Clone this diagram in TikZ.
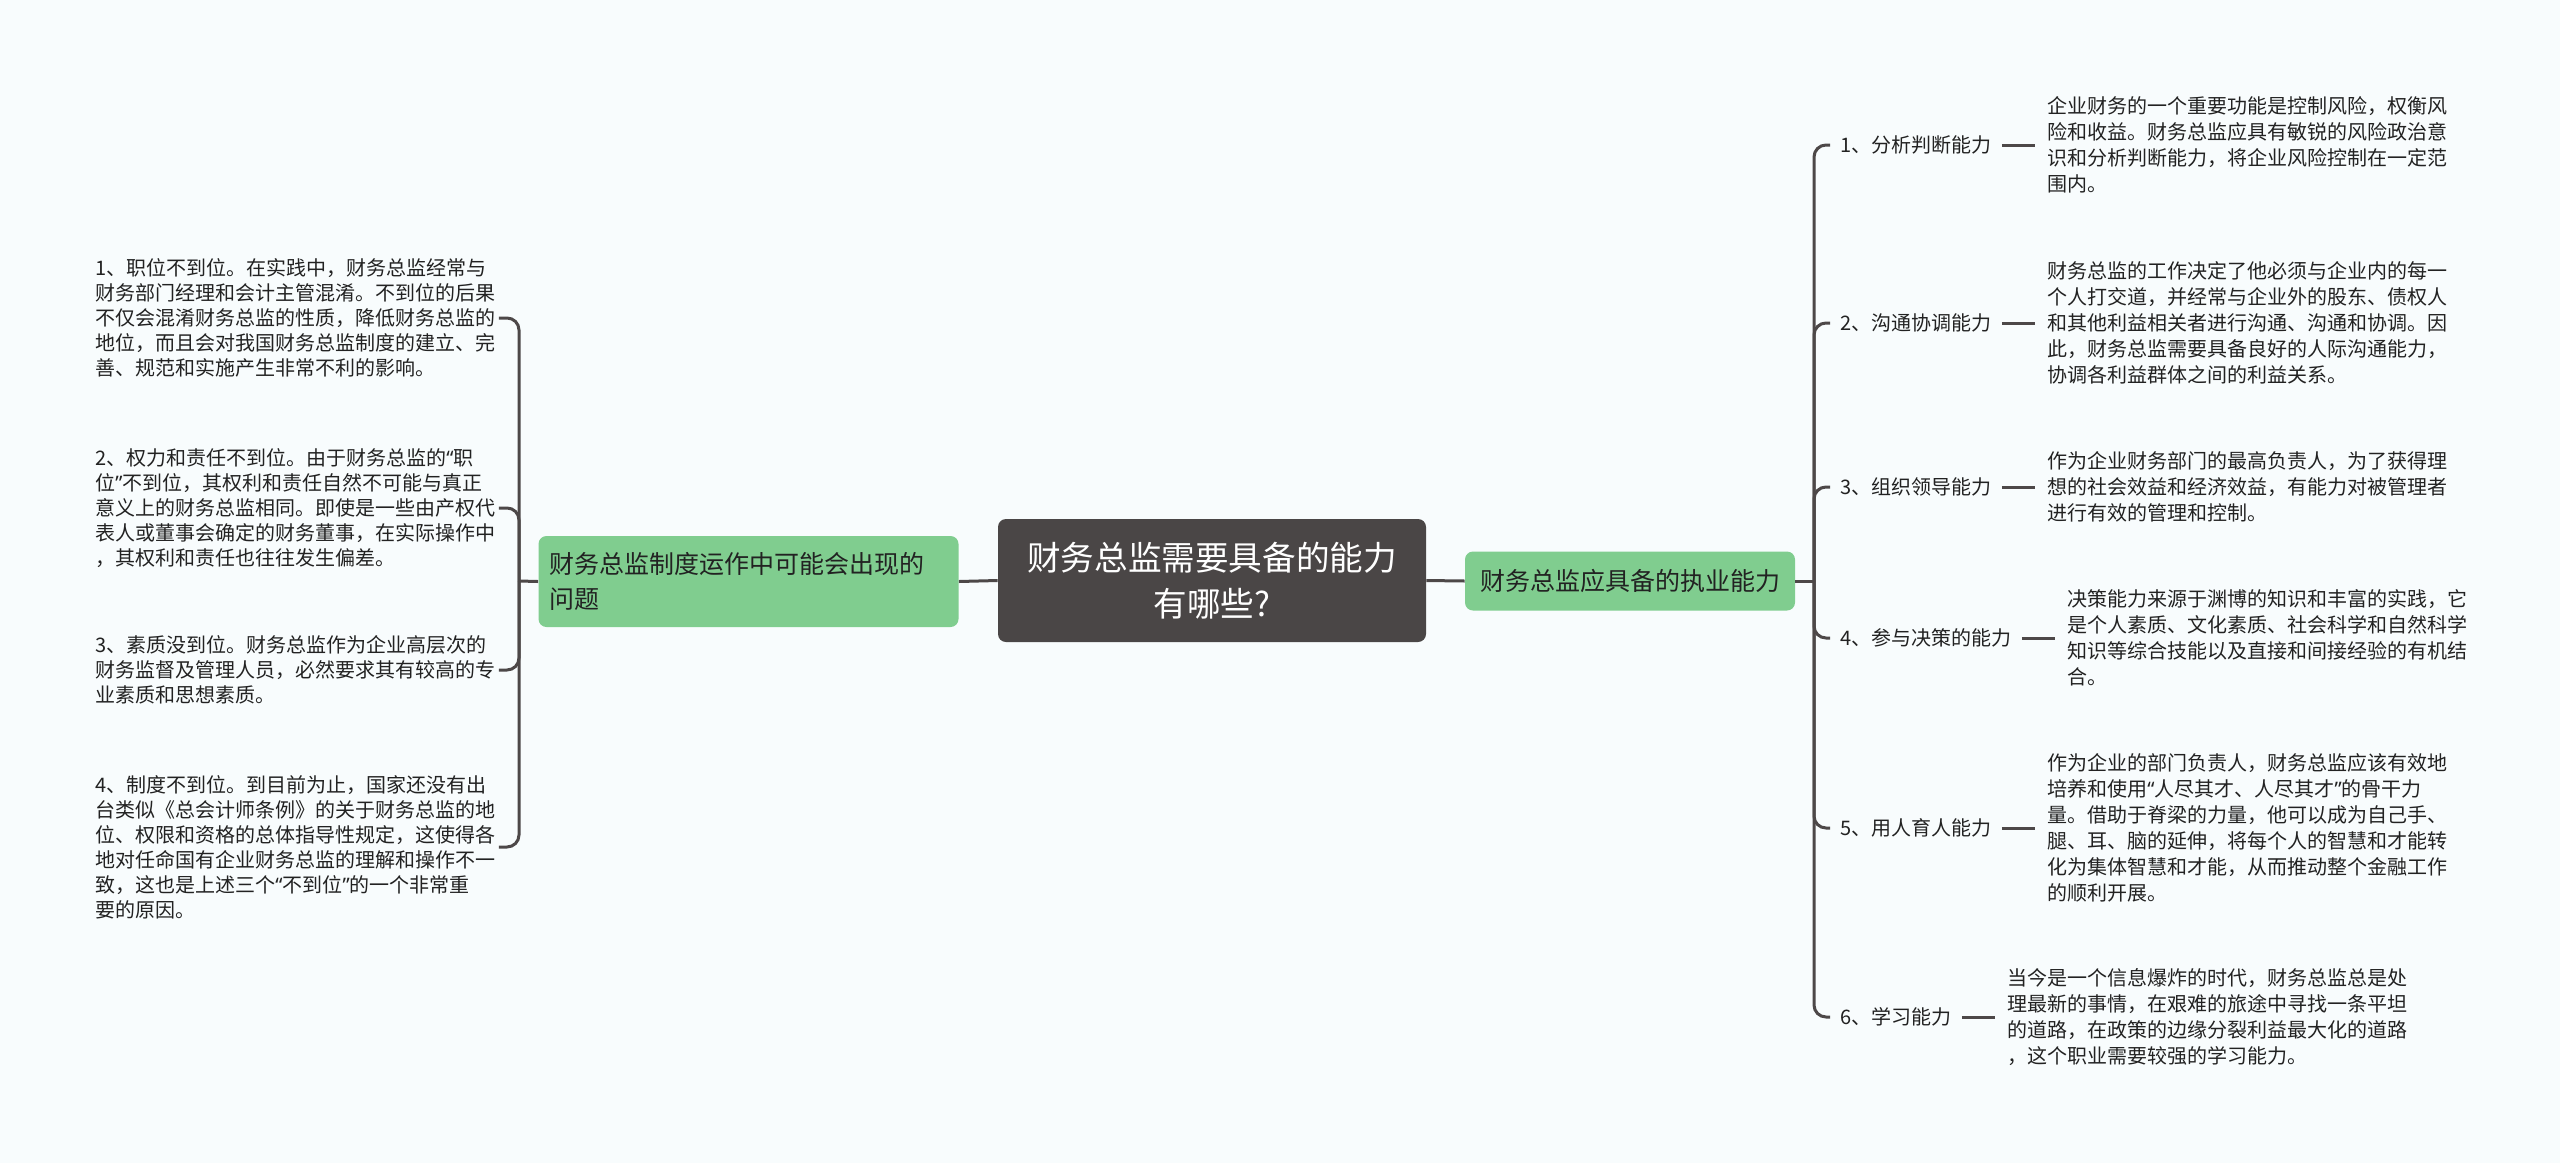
\documentclass[tikz,border=0pt]{standalone}
\usepackage{fontspec}
\setmainfont{Noto Sans CJK SC}
\newfontfamily\quotefont{Noto Sans}
\newcommand{\openq}{{\quotefont “}}
\newcommand{\closeq}{{\quotefont ”}}
\usepackage{xcolor}
\usepackage{tikz}
\usetikzlibrary{positioning}

\definecolor{bgcol}{RGB}{248,252,253}
\definecolor{rootcol}{RGB}{74,70,70}
\definecolor{leafgreen}{RGB}{128,205,143}
\definecolor{linkcol}{RGB}{77,72,72}
\definecolor{txtcol}{RGB}{34,34,34}

\begin{document}
\begin{tikzpicture}[x=0.5pt,y=-0.5pt,
    link/.style={draw=linkcol, line width=1.5pt},
    rootbox/.style={fill=rootcol, text=white, rounded corners=4pt, align=center,
        font=\fontsize{16.8pt}{23pt}\selectfont, minimum width=214pt, minimum height=61.5pt},
    greenbox/.style={fill=leafgreen, text=txtcol, rounded corners=4pt,
        font=\fontsize{12.5pt}{17.5pt}\selectfont},
    itembox/.style={anchor=west, text=txtcol, align=left, text width=200pt,
        inner xsep=1.5pt, font=\fontsize{10pt}{12.5pt}\selectfont},
    labelbox/.style={anchor=west, text=txtcol, inner xsep=5pt, inner ysep=2pt,
        font=\fontsize{10pt}{13pt}\selectfont},
    descbox/.style={text=txtcol, align=left, inner xsep=6pt,
        font=\fontsize{10pt}{13pt}\selectfont},
]
    \fill[bgcol] (0,0) rectangle (2560,1163);
    \useasboundingbox (0,0) rectangle (2560,1163);

    % centre and the two branches
    \node[rootbox] (root) at (1212,580.5) {财务总监需要具备的能力\\有哪些?};
    \node[greenbox, align=left, text width=199pt, inner xsep=5.5pt, minimum height=45.5pt]
        (lg) at (748.5,581.5) {财务总监制度运作中可能会出现的\\问题};
    \node[greenbox, minimum width=165pt, minimum height=29.5pt]
        (rg) at (1630,581) {财务总监应具备的执业能力};
    \coordinate (lj) at (519,581);
    \coordinate (rj) at (1814,581);

    \draw[link] (root.west) -- (lg.east);
    \draw[link] (root.east) -- (rg.west);
    \draw[link] (lg.west) -- (lj);
    \draw[link] (rg.east) -- (rj);

    % left side
    \node[itembox] (i1) at (92,318) {1、职位不到位。在实践中，财务总监经常与\\财务部门经理和会计主管混淆。不到位的后果\\不仅会混淆财务总监的性质，降低财务总监的\\地位，而且会对我国财务总监制度的建立、完\\善、规范和实施产生非常不利的影响。};
    \node[itembox] (i2) at (92,508) {2、权力和责任不到位。由于财务总监的\openq 职\\位\closeq 不到位，其权利和责任自然不可能与真正\\意义上的财务总监相同。即使是一些由产权代\\表人或董事会确定的财务董事，在实际操作中\\，其权利和责任也往往发生偏差。};
    \node[itembox] (i3) at (92,670) {3、素质没到位。财务总监作为企业高层次的\\财务监督及管理人员，必然要求其有较高的专\\业素质和思想素质。};
    \node[itembox] (i4) at (92,847) {4、制度不到位。到目前为止，国家还没有出\\台类似《总会计师条例》的关于财务总监的地\\位、权限和资格的总体指导性规定，这使得各\\地对任命国有企业财务总监的理解和操作不一\\致，这也是上述三个\openq 不到位\closeq 的一个非常重\\要的原因。};

    \foreach \i in {1,...,4}
        \draw[link, rounded corners=6pt] (lj) |- (i\i.east);

    % right side
    \node[labelbox] (l1) at (1830,145) {1、分析判断能力};
    \node[labelbox] (l2) at (1830,323) {2、沟通协调能力};
    \node[labelbox] (l3) at (1830,487) {3、组织领导能力};
    \node[labelbox] (l4) at (1830,638) {4、参与决策的能力};
    \node[labelbox] (l5) at (1830,828) {5、用人育人能力};
    \node[labelbox] (l6) at (1830,1017) {6、学习能力};

    \node[descbox, right=16.5pt of l1] (d1) {企业财务的一个重要功能是控制风险，权衡风\\险和收益。财务总监应具有敏锐的风险政治意\\识和分析判断能力，将企业风险控制在一定范\\围内。};
    \node[descbox, right=16.5pt of l2] (d2) {财务总监的工作决定了他必须与企业内的每一\\个人打交道，并经常与企业外的股东、债权人\\和其他利益相关者进行沟通、沟通和协调。因\\此，财务总监需要具备良好的人际沟通能力，\\协调各利益群体之间的利益关系。};
    \node[descbox, right=16.5pt of l3] (d3) {作为企业财务部门的最高负责人，为了获得理\\想的社会效益和经济效益，有能力对被管理者\\进行有效的管理和控制。};
    \node[descbox, right=16.5pt of l4] (d4) {决策能力来源于渊博的知识和丰富的实践，它\\是个人素质、文化素质、社会科学和自然科学\\知识等综合技能以及直接和间接经验的有机结\\合。};
    \node[descbox, right=16.5pt of l5] (d5) {作为企业的部门负责人，财务总监应该有效地\\培养和使用\openq 人尽其才、人尽其才\closeq 的骨干力\\量。借助于脊梁的力量，他可以成为自己手、\\腿、耳、脑的延伸，将每个人的智慧和才能转\\化为集体智慧和才能，从而推动整个金融工作\\的顺利开展。};
    \node[descbox, right=16.5pt of l6] (d6) {当今是一个信息爆炸的时代，财务总监总是处\\理最新的事情，在艰难的旅途中寻找一条平坦\\的道路，在政策的边缘分裂利益最大化的道路\\，这个职业需要较强的学习能力。};

    \foreach \i in {1,...,6} {
        \draw[link, rounded corners=6pt] (rj) |- (l\i.west);
        \draw[link] (l\i.east) -- (d\i.west);
    }
\end{tikzpicture}
\end{document}
